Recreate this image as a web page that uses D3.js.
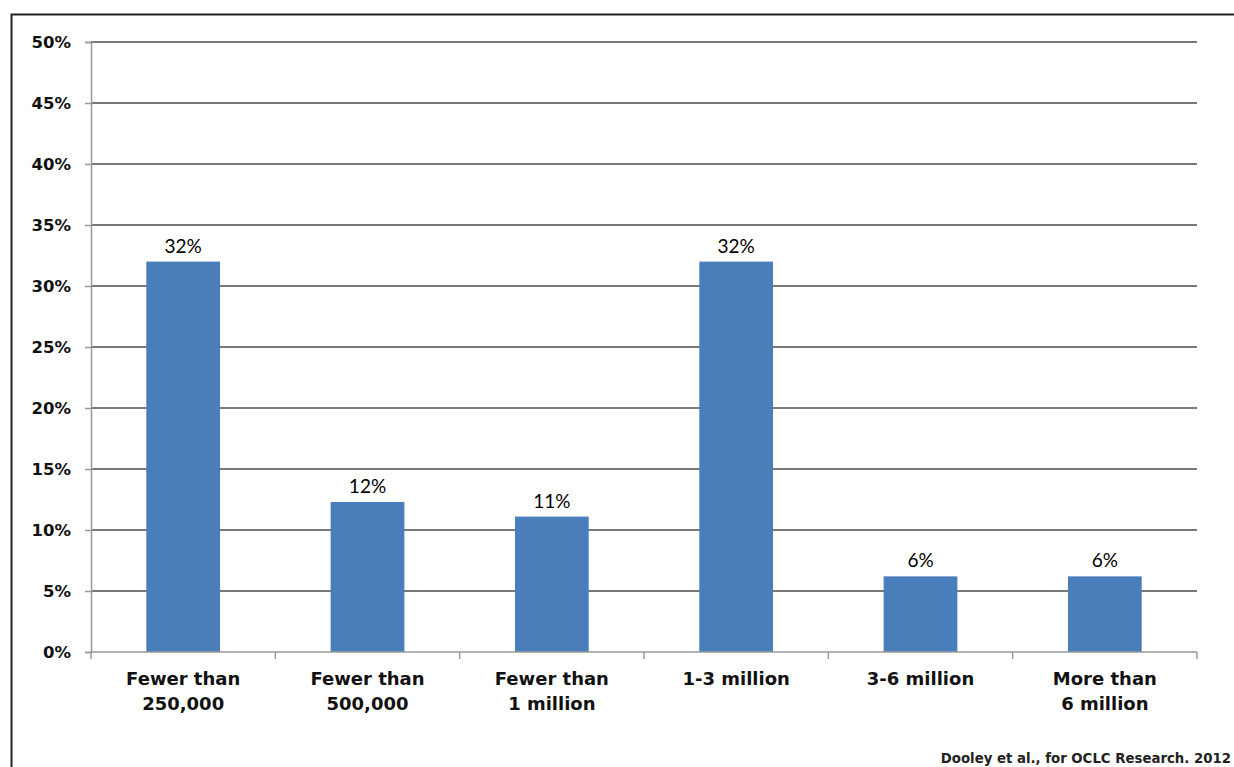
<!DOCTYPE html>
<html><head><meta charset="utf-8">
<script src="https://cdn.jsdelivr.net/npm/d3@7"></script>
<style>body{margin:0;background:#fff}svg{display:block}</style>
</head><body>
<svg id="c" width="1234" height="767"></svg>
<script>
const categories = [["Fewer than","250,000"],["Fewer than","500,000"],["Fewer than","1 million"],["1-3 million"],["3-6 million"],["More than","6 million"]];
const values = [32, 12.3, 11.1, 32, 6.2, 6.2];
const valueLabels = ["32%","12%","11%","32%","6%","6%"];
const yTicks = [0,5,10,15,20,25,30,35,40,45,50];
const source = "Dooley et al., for OCLC Research. 2012";

const axisFont = "'DejaVu Sans', Verdana, sans-serif";
const svg = d3.select("#c");
svg.append("rect").attr("x",11.5).attr("y",14.5).attr("width",1240).attr("height",800)
  .attr("fill","none").attr("stroke","#222").attr("stroke-width",2);

const m = {l:91, r:1197, t:42, b:652};
const x = d3.scaleBand().domain(d3.range(categories.length)).range([m.l,m.r]).paddingInner(0.6).paddingOuter(0.3);
const xb = d3.scaleBand().domain(d3.range(categories.length)).range([m.l,m.r]);
const y = d3.scaleLinear().domain([0,50]).range([m.b,m.t]);

// gridlines
svg.append("g").selectAll("line").data(yTicks.filter(d=>d>0)).join("line")
  .attr("x1",m.l).attr("x2",m.r).attr("y1",d=>y(d)).attr("y2",d=>y(d))
  .attr("stroke","#4d4d4d").attr("stroke-width",1.6);

// bars
svg.append("g").selectAll("rect").data(values).join("rect")
  .attr("x",(d,i)=>x(i)).attr("width",x.bandwidth())
  .attr("y",d=>y(d)).attr("height",d=>y(0)-y(d)).attr("fill","#4a7ebb");

// y axis
const ya = svg.append("g").attr("transform",`translate(${m.l},0)`)
  .call(d3.axisLeft(y).tickValues(yTicks).tickFormat(d=>d+"%").tickSize(6).tickPadding(14));
ya.select(".domain").attr("stroke","#999").attr("stroke-width",1.5);
ya.selectAll(".tick line").attr("stroke","#999").attr("stroke-width",1.5);
ya.selectAll("text").attr("font-family",axisFont).attr("font-weight","bold")
  .attr("font-size",16.5).attr("fill","#111");

// x axis
const xa = svg.append("g").attr("transform",`translate(0,${m.b})`);
xa.append("line").attr("x1",m.l).attr("x2",m.r).attr("stroke","#999").attr("stroke-width",1.5);
xa.selectAll(".tk").data(d3.range(categories.length+1)).join("line")
  .attr("x1",i=>m.l+i*xb.bandwidth()).attr("x2",i=>m.l+i*xb.bandwidth())
  .attr("y1",0).attr("y2",7).attr("stroke","#999").attr("stroke-width",1.5);
const lab = xa.selectAll("text").data(categories).join("text")
  .attr("text-anchor","middle").attr("font-family",axisFont)
  .attr("font-weight","bold").attr("font-size",18).attr("fill","#111")
  .attr("transform",(d,i)=>`translate(${xb(i)+xb.bandwidth()/2},33)`);
lab.selectAll("tspan").data(d=>d).join("tspan").attr("x",0).attr("dy",(d,i)=>i?25:0).text(d=>d);

// value labels
svg.append("g").selectAll("text").data(values).join("text")
  .attr("x",(d,i)=>x(i)+x.bandwidth()/2).attr("y",d=>y(d)-9)
  .attr("text-anchor","middle").attr("font-family","Lato, 'Open Sans', sans-serif")
  .attr("font-size",19).attr("fill","#000").text((d,i)=>valueLabels[i]);

svg.append("text").attr("x",1231).attr("y",763).attr("text-anchor","end")
  .attr("font-family",axisFont).attr("font-weight","bold")
  .attr("font-size",13.3).attr("fill","#222").text(source);
</script>
</body></html>
